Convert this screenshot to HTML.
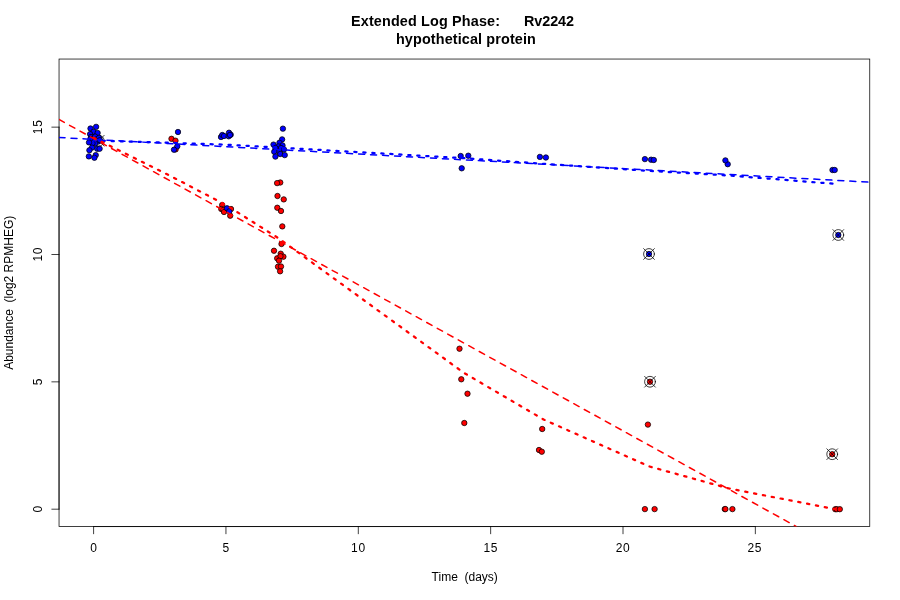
<!DOCTYPE html>
<html><head><meta charset="utf-8"><title>Extended Log Phase: Rv2242</title>
<style>html,body{margin:0;padding:0;background:#fff}svg{display:block}text{font-family:"Liberation Sans",Arial,Helvetica,sans-serif;fill:#000}</style></head><body>
<svg width="900" height="600" viewBox="0 0 900 600">
<rect x="0" y="0" width="900" height="600" fill="#fff"/>
<defs><clipPath id="pc"><rect x="59.04" y="59.04" width="810.72" height="467.52"/></clipPath></defs>
<g fill="none" stroke="#000" stroke-width="0.75" stroke-linecap="round">
<path d="M93.60 526.56L755.35 526.56"/>
<path d="M93.60 526.56L93.60 533.76"/>
<path d="M225.95 526.56L225.95 533.76"/>
<path d="M358.30 526.56L358.30 533.76"/>
<path d="M490.65 526.56L490.65 533.76"/>
<path d="M623.00 526.56L623.00 533.76"/>
<path d="M755.35 526.56L755.35 533.76"/>
<path d="M59.04 509.20L59.04 127.15"/>
<path d="M59.04 509.20L51.84 509.20"/>
<path d="M59.04 381.85L51.84 381.85"/>
<path d="M59.04 254.50L51.84 254.50"/>
<path d="M59.04 127.15L51.84 127.15"/>
<rect x="59.04" y="59.04" width="810.72" height="467.52"/>
</g>
<g clip-path="url(#pc)">
<g>
<circle cx="98.80" cy="140.70" r="2.7" fill="#ff0000" stroke="#000" stroke-width="0.75"/>
<circle cx="93.00" cy="137.00" r="2.7" fill="#ff0000" stroke="#000" stroke-width="0.75"/>
<circle cx="95.00" cy="140.00" r="2.7" fill="#ff0000" stroke="#000" stroke-width="0.75"/>
<circle cx="171.50" cy="138.80" r="2.7" fill="#ff0000" stroke="#000" stroke-width="0.75"/>
<circle cx="175.50" cy="140.70" r="2.7" fill="#ff0000" stroke="#000" stroke-width="0.75"/>
<circle cx="175.60" cy="149.40" r="2.7" fill="#ff0000" stroke="#000" stroke-width="0.75"/>
<circle cx="222.20" cy="205.00" r="2.7" fill="#ff0000" stroke="#000" stroke-width="0.75"/>
<circle cx="221.30" cy="209.00" r="2.7" fill="#ff0000" stroke="#000" stroke-width="0.75"/>
<circle cx="223.30" cy="210.00" r="2.7" fill="#ff0000" stroke="#000" stroke-width="0.75"/>
<circle cx="224.00" cy="212.00" r="2.7" fill="#ff0000" stroke="#000" stroke-width="0.75"/>
<circle cx="231.00" cy="209.00" r="2.7" fill="#ff0000" stroke="#000" stroke-width="0.75"/>
<circle cx="230.20" cy="215.70" r="2.7" fill="#ff0000" stroke="#000" stroke-width="0.75"/>
<circle cx="280.25" cy="182.50" r="2.7" fill="#ff0000" stroke="#000" stroke-width="0.75"/>
<circle cx="277.10" cy="183.10" r="2.7" fill="#ff0000" stroke="#000" stroke-width="0.75"/>
<circle cx="277.50" cy="196.00" r="2.7" fill="#ff0000" stroke="#000" stroke-width="0.75"/>
<circle cx="283.75" cy="199.40" r="2.7" fill="#ff0000" stroke="#000" stroke-width="0.75"/>
<circle cx="277.30" cy="207.75" r="2.7" fill="#ff0000" stroke="#000" stroke-width="0.75"/>
<circle cx="281.00" cy="211.00" r="2.7" fill="#ff0000" stroke="#000" stroke-width="0.75"/>
<circle cx="282.30" cy="226.40" r="2.7" fill="#ff0000" stroke="#000" stroke-width="0.75"/>
<circle cx="281.50" cy="244.00" r="2.7" fill="#ff0000" stroke="#000" stroke-width="0.75"/>
<circle cx="274.00" cy="250.75" r="2.7" fill="#ff0000" stroke="#000" stroke-width="0.75"/>
<circle cx="280.70" cy="253.70" r="2.7" fill="#ff0000" stroke="#000" stroke-width="0.75"/>
<circle cx="283.40" cy="256.70" r="2.7" fill="#ff0000" stroke="#000" stroke-width="0.75"/>
<circle cx="277.20" cy="258.30" r="2.7" fill="#ff0000" stroke="#000" stroke-width="0.75"/>
<circle cx="280.50" cy="256.20" r="2.7" fill="#ff0000" stroke="#000" stroke-width="0.75"/>
<circle cx="279.00" cy="260.70" r="2.7" fill="#ff0000" stroke="#000" stroke-width="0.75"/>
<circle cx="278.00" cy="266.70" r="2.7" fill="#ff0000" stroke="#000" stroke-width="0.75"/>
<circle cx="281.00" cy="266.50" r="2.7" fill="#ff0000" stroke="#000" stroke-width="0.75"/>
<circle cx="280.10" cy="271.30" r="2.7" fill="#ff0000" stroke="#000" stroke-width="0.75"/>
<circle cx="459.50" cy="348.70" r="2.7" fill="#ff0000" stroke="#000" stroke-width="0.75"/>
<circle cx="461.30" cy="379.30" r="2.7" fill="#ff0000" stroke="#000" stroke-width="0.75"/>
<circle cx="467.50" cy="393.70" r="2.7" fill="#ff0000" stroke="#000" stroke-width="0.75"/>
<circle cx="464.30" cy="423.00" r="2.7" fill="#ff0000" stroke="#000" stroke-width="0.75"/>
<circle cx="542.20" cy="429.00" r="2.7" fill="#ff0000" stroke="#000" stroke-width="0.75"/>
<circle cx="539.00" cy="450.00" r="2.7" fill="#ff0000" stroke="#000" stroke-width="0.75"/>
<circle cx="541.80" cy="451.70" r="2.7" fill="#ff0000" stroke="#000" stroke-width="0.75"/>
<circle cx="647.90" cy="424.60" r="2.7" fill="#ff0000" stroke="#000" stroke-width="0.75"/>
<circle cx="644.90" cy="509.10" r="2.7" fill="#ff0000" stroke="#000" stroke-width="0.75"/>
<circle cx="654.60" cy="509.10" r="2.7" fill="#ff0000" stroke="#000" stroke-width="0.75"/>
<circle cx="724.80" cy="509.10" r="2.7" fill="#ff0000" stroke="#000" stroke-width="0.75"/>
<circle cx="725.40" cy="509.10" r="2.7" fill="#ff0000" stroke="#000" stroke-width="0.75"/>
<circle cx="732.40" cy="509.10" r="2.7" fill="#ff0000" stroke="#000" stroke-width="0.75"/>
<circle cx="835.30" cy="509.20" r="2.7" fill="#ff0000" stroke="#000" stroke-width="0.75"/>
<circle cx="836.80" cy="509.20" r="2.7" fill="#ff0000" stroke="#000" stroke-width="0.75"/>
<circle cx="839.80" cy="509.20" r="2.7" fill="#ff0000" stroke="#000" stroke-width="0.75"/>
<circle cx="650.00" cy="381.75" r="2.7" fill="#ff0000" stroke="#000" stroke-width="0.75"/>
<circle cx="832.20" cy="454.20" r="2.7" fill="#ff0000" stroke="#000" stroke-width="0.75"/>
<g fill="none" stroke="#000" stroke-width="0.75" stroke-linecap="round"><circle cx="98.80" cy="140.70" r="5.40"/><path d="M93.40 135.30L104.20 146.10M93.40 146.10L104.20 135.30"/></g>
<g fill="none" stroke="#000" stroke-width="0.75" stroke-linecap="round"><circle cx="650.00" cy="381.75" r="5.40"/><path d="M644.60 376.35L655.40 387.15M644.60 387.15L655.40 376.35"/></g>
<g fill="none" stroke="#000" stroke-width="0.75" stroke-linecap="round"><circle cx="832.20" cy="454.20" r="5.40"/><path d="M826.80 448.80L837.60 459.60M826.80 459.60L837.60 448.80"/></g>
</g><g>
<circle cx="96.10" cy="126.85" r="2.7" fill="#0000ff" stroke="#000" stroke-width="0.75"/>
<circle cx="90.50" cy="128.50" r="2.7" fill="#0000ff" stroke="#000" stroke-width="0.75"/>
<circle cx="93.50" cy="131.70" r="2.7" fill="#0000ff" stroke="#000" stroke-width="0.75"/>
<circle cx="97.60" cy="133.00" r="2.7" fill="#0000ff" stroke="#000" stroke-width="0.75"/>
<circle cx="90.10" cy="134.10" r="2.7" fill="#0000ff" stroke="#000" stroke-width="0.75"/>
<circle cx="91.00" cy="137.00" r="2.7" fill="#0000ff" stroke="#000" stroke-width="0.75"/>
<circle cx="93.20" cy="138.50" r="2.7" fill="#0000ff" stroke="#000" stroke-width="0.75"/>
<circle cx="95.20" cy="136.60" r="2.7" fill="#0000ff" stroke="#000" stroke-width="0.75"/>
<circle cx="97.20" cy="139.00" r="2.7" fill="#0000ff" stroke="#000" stroke-width="0.75"/>
<circle cx="99.00" cy="137.80" r="2.7" fill="#0000ff" stroke="#000" stroke-width="0.75"/>
<circle cx="92.00" cy="140.50" r="2.7" fill="#0000ff" stroke="#000" stroke-width="0.75"/>
<circle cx="94.20" cy="141.60" r="2.7" fill="#0000ff" stroke="#000" stroke-width="0.75"/>
<circle cx="96.30" cy="141.00" r="2.7" fill="#0000ff" stroke="#000" stroke-width="0.75"/>
<circle cx="98.20" cy="141.60" r="2.7" fill="#0000ff" stroke="#000" stroke-width="0.75"/>
<circle cx="100.00" cy="140.20" r="2.7" fill="#0000ff" stroke="#000" stroke-width="0.75"/>
<circle cx="90.40" cy="139.00" r="2.7" fill="#0000ff" stroke="#000" stroke-width="0.75"/>
<circle cx="95.00" cy="143.60" r="2.7" fill="#0000ff" stroke="#000" stroke-width="0.75"/>
<circle cx="92.50" cy="143.20" r="2.7" fill="#0000ff" stroke="#000" stroke-width="0.75"/>
<circle cx="89.00" cy="142.40" r="2.7" fill="#0000ff" stroke="#000" stroke-width="0.75"/>
<circle cx="92.00" cy="147.60" r="2.7" fill="#0000ff" stroke="#000" stroke-width="0.75"/>
<circle cx="97.25" cy="148.75" r="2.7" fill="#0000ff" stroke="#000" stroke-width="0.75"/>
<circle cx="99.60" cy="148.75" r="2.7" fill="#0000ff" stroke="#000" stroke-width="0.75"/>
<circle cx="89.40" cy="150.25" r="2.7" fill="#0000ff" stroke="#000" stroke-width="0.75"/>
<circle cx="88.85" cy="156.40" r="2.7" fill="#0000ff" stroke="#000" stroke-width="0.75"/>
<circle cx="95.75" cy="155.10" r="2.7" fill="#0000ff" stroke="#000" stroke-width="0.75"/>
<circle cx="94.40" cy="157.75" r="2.7" fill="#0000ff" stroke="#000" stroke-width="0.75"/>
<circle cx="178.00" cy="132.00" r="2.7" fill="#0000ff" stroke="#000" stroke-width="0.75"/>
<circle cx="177.30" cy="146.30" r="2.7" fill="#0000ff" stroke="#000" stroke-width="0.75"/>
<circle cx="174.00" cy="149.70" r="2.7" fill="#0000ff" stroke="#000" stroke-width="0.75"/>
<circle cx="221.00" cy="137.00" r="2.7" fill="#0000ff" stroke="#000" stroke-width="0.75"/>
<circle cx="222.30" cy="135.00" r="2.7" fill="#0000ff" stroke="#000" stroke-width="0.75"/>
<circle cx="224.00" cy="136.00" r="2.7" fill="#0000ff" stroke="#000" stroke-width="0.75"/>
<circle cx="229.00" cy="132.70" r="2.7" fill="#0000ff" stroke="#000" stroke-width="0.75"/>
<circle cx="230.70" cy="134.70" r="2.7" fill="#0000ff" stroke="#000" stroke-width="0.75"/>
<circle cx="228.70" cy="136.30" r="2.7" fill="#0000ff" stroke="#000" stroke-width="0.75"/>
<circle cx="230.00" cy="135.00" r="2.7" fill="#0000ff" stroke="#000" stroke-width="0.75"/>
<circle cx="282.90" cy="128.65" r="2.7" fill="#0000ff" stroke="#000" stroke-width="0.75"/>
<circle cx="282.10" cy="139.40" r="2.7" fill="#0000ff" stroke="#000" stroke-width="0.75"/>
<circle cx="279.50" cy="142.75" r="2.7" fill="#0000ff" stroke="#000" stroke-width="0.75"/>
<circle cx="273.50" cy="144.60" r="2.7" fill="#0000ff" stroke="#000" stroke-width="0.75"/>
<circle cx="282.50" cy="145.40" r="2.7" fill="#0000ff" stroke="#000" stroke-width="0.75"/>
<circle cx="278.40" cy="146.50" r="2.7" fill="#0000ff" stroke="#000" stroke-width="0.75"/>
<circle cx="275.40" cy="148.00" r="2.7" fill="#0000ff" stroke="#000" stroke-width="0.75"/>
<circle cx="281.00" cy="148.00" r="2.7" fill="#0000ff" stroke="#000" stroke-width="0.75"/>
<circle cx="284.00" cy="149.50" r="2.7" fill="#0000ff" stroke="#000" stroke-width="0.75"/>
<circle cx="274.25" cy="151.75" r="2.7" fill="#0000ff" stroke="#000" stroke-width="0.75"/>
<circle cx="279.50" cy="152.10" r="2.7" fill="#0000ff" stroke="#000" stroke-width="0.75"/>
<circle cx="280.25" cy="154.00" r="2.7" fill="#0000ff" stroke="#000" stroke-width="0.75"/>
<circle cx="284.75" cy="155.10" r="2.7" fill="#0000ff" stroke="#000" stroke-width="0.75"/>
<circle cx="275.40" cy="156.60" r="2.7" fill="#0000ff" stroke="#000" stroke-width="0.75"/>
<circle cx="227.00" cy="208.30" r="2.7" fill="#0000ff" stroke="#000" stroke-width="0.75"/>
<circle cx="229.30" cy="211.30" r="2.7" fill="#0000ff" stroke="#000" stroke-width="0.75"/>
<circle cx="460.70" cy="156.00" r="2.7" fill="#0000ff" stroke="#000" stroke-width="0.75"/>
<circle cx="468.30" cy="155.70" r="2.7" fill="#0000ff" stroke="#000" stroke-width="0.75"/>
<circle cx="461.70" cy="168.30" r="2.7" fill="#0000ff" stroke="#000" stroke-width="0.75"/>
<circle cx="539.90" cy="156.90" r="2.7" fill="#0000ff" stroke="#000" stroke-width="0.75"/>
<circle cx="545.90" cy="157.50" r="2.7" fill="#0000ff" stroke="#000" stroke-width="0.75"/>
<circle cx="644.90" cy="159.10" r="2.7" fill="#0000ff" stroke="#000" stroke-width="0.75"/>
<circle cx="651.10" cy="159.70" r="2.7" fill="#0000ff" stroke="#000" stroke-width="0.75"/>
<circle cx="653.80" cy="160.00" r="2.7" fill="#0000ff" stroke="#000" stroke-width="0.75"/>
<circle cx="727.70" cy="164.20" r="2.7" fill="#0000ff" stroke="#000" stroke-width="0.75"/>
<circle cx="725.40" cy="160.40" r="2.7" fill="#0000ff" stroke="#000" stroke-width="0.75"/>
<circle cx="832.50" cy="170.00" r="2.7" fill="#0000ff" stroke="#000" stroke-width="0.75"/>
<circle cx="834.70" cy="170.00" r="2.7" fill="#0000ff" stroke="#000" stroke-width="0.75"/>
<circle cx="649.00" cy="254.00" r="2.7" fill="#0000ff" stroke="#000" stroke-width="0.75"/>
<circle cx="838.30" cy="235.00" r="2.7" fill="#0000ff" stroke="#000" stroke-width="0.75"/>
<g fill="none" stroke="#000" stroke-width="0.75" stroke-linecap="round"><circle cx="649.00" cy="254.00" r="5.40"/><path d="M643.60 248.60L654.40 259.40M643.60 259.40L654.40 248.60"/></g>
<g fill="none" stroke="#000" stroke-width="0.75" stroke-linecap="round"><circle cx="838.30" cy="235.00" r="5.40"/><path d="M832.90 229.60L843.70 240.40M832.90 240.40L843.70 229.60"/></g>
</g>
<g fill="none" stroke-linecap="round" stroke-linejoin="round">
<polyline points="59.04,137.50 869.76,182.20" stroke="#0000ff" stroke-width="1.5" stroke-dasharray="6 6"/>
<polyline points="93.60,140.50 173.00,142.90 226.00,144.70 279.00,147.60 464.00,158.20 543.60,163.80 649.50,170.90 729.00,175.50 835.50,183.90" stroke="#0000ff" stroke-width="2.25" stroke-dasharray="2.25 6.75"/>
<polyline points="59.04,119.50 796.40,526.56" stroke="#ff0000" stroke-width="1.5" stroke-dasharray="6 6"/>
<polyline points="93.60,137.70 173.00,177.30 226.00,205.00 279.00,238.50 464.00,372.90 543.60,419.50 649.50,466.50 729.00,488.50 835.50,509.20" stroke="#ff0000" stroke-width="2.25" stroke-dasharray="2.25 6.75"/>
</g>
</g>
<g font-size="12px" text-anchor="middle">
<text x="93.60" y="551.5">0</text>
<text x="225.95" y="551.5">5</text>
<text x="358.10" y="551.5" textLength="14">10</text>
<text x="490.45" y="551.5" textLength="14">15</text>
<text x="622.80" y="551.5" textLength="14">20</text>
<text x="754.45" y="551.5" textLength="14">25</text>
<text transform="translate(42 509.20) rotate(-90)">0</text>
<text transform="translate(42 381.85) rotate(-90)">5</text>
<text transform="translate(42 254.50) rotate(-90)" textLength="14">10</text>
<text transform="translate(42 127.15) rotate(-90)" textLength="14">15</text>
<text x="464.7" y="580.5" xml:space="preserve">Time  (days)</text>
<text transform="translate(13.2 292.8) rotate(-90)" xml:space="preserve">Abundance  (log2 RPMHEG)</text>
</g>
<g font-size="14.4px" font-weight="bold">
<text x="351.0" y="25.8" text-anchor="start" textLength="149" lengthAdjust="spacing">Extended Log Phase:</text>
<text x="524.0" y="25.8" text-anchor="start" textLength="50" lengthAdjust="spacing">Rv2242</text>
<text x="395.9" y="44.3" text-anchor="start" textLength="140" lengthAdjust="spacing">hypothetical protein</text>
</g>
</svg></body></html>
